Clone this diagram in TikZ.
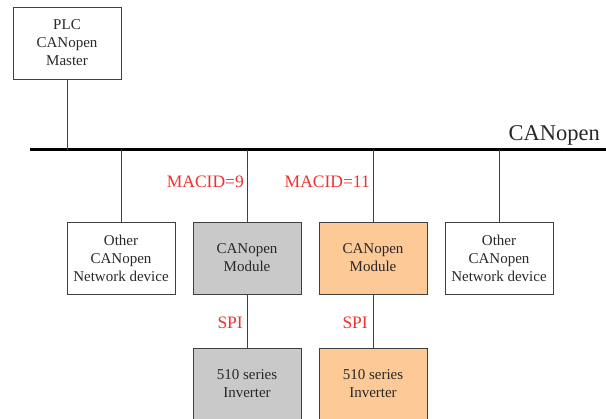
\documentclass[tikz,border=0pt]{standalone}
\usepackage{fontspec}
\setmainfont{Liberation Serif}
\usepackage{xcolor}
\usetikzlibrary{positioning}

\definecolor{boxline}{RGB}{64,64,64}
\definecolor{txtgray}{RGB}{40,40,40}
\definecolor{modgray}{RGB}{201,201,201}
\definecolor{modorange}{RGB}{252,201,151}
\definecolor{idred}{RGB}{238,48,48}

\begin{document}
\begin{tikzpicture}[x=1pt, y=-1pt,
    device/.style={rectangle, draw=boxline, line width=0.9pt, minimum width=108pt, minimum height=72pt,
        align=center, text=txtgray, font=\fontsize{15}{18}\selectfont, inner sep=0pt},
    link/.style={draw=boxline, line width=0.9pt},
    tag/.style={text=idred, font=\fontsize{17.5}{20}\selectfont, inner sep=0pt}]

    \useasboundingbox (0,0) rectangle (606,419);
    \clip (0,0) rectangle (606,419);

    % Master
    \node[device] (plc) at (67,43) {PLC\\CANopen\\Master};

    % Bus
    \coordinate (busL) at (30,150);
    \coordinate (busR) at (606,150);
    \draw[line width=3pt] (busL) -- (busR);
    \node[font=\fontsize{22.5}{26}\selectfont, text=txtgray, anchor=base east, inner sep=0pt] (buslabel) at (600,141) {CANopen};

    % Devices on the bus
    \node[device] (other1) at (121,258) {Other\\CANopen\\Network device};
    \node[device, fill=modgray] (mod1) at (247,258) {CANopen\\Module};
    \node[device, fill=modorange] (mod2) at (373,258) {CANopen\\Module};
    \node[device] (other2) at (499,258) {Other\\CANopen\\Network device};

    % Inverters
    \node[device, fill=modgray] (inv1) at (247,384) {510 series\\Inverter};
    \node[device, fill=modorange] (inv2) at (373,384) {510 series\\Inverter};

    % Bus taps
    \coordinate (tapplc) at (67,150);
    \coordinate (tap1) at (121,150);
    \coordinate (tap2) at (247,150);
    \coordinate (tap3) at (373,150);
    \coordinate (tap4) at (499,150);
    \draw[link] (plc) -- (tapplc);
    \draw[link] (tap1) -- (other1);
    \draw[link] (tap2) -- (mod1);
    \draw[link] (tap3) -- (mod2);
    \draw[link] (tap4) -- (other2);

    % SPI links
    \draw[link] (mod1) -- (inv1);
    \draw[link] (mod2) -- (inv2);

    % Labels
    \node[tag, anchor=east] (id1) at (244,182) {MACID=9};
    \node[tag, anchor=east] (id2) at (370,182) {MACID=11};
    \node[tag, anchor=east] (spi1) at (243,323) {SPI};
    \node[tag, anchor=east] (spi2) at (368,323) {SPI};
\end{tikzpicture}
\end{document}
